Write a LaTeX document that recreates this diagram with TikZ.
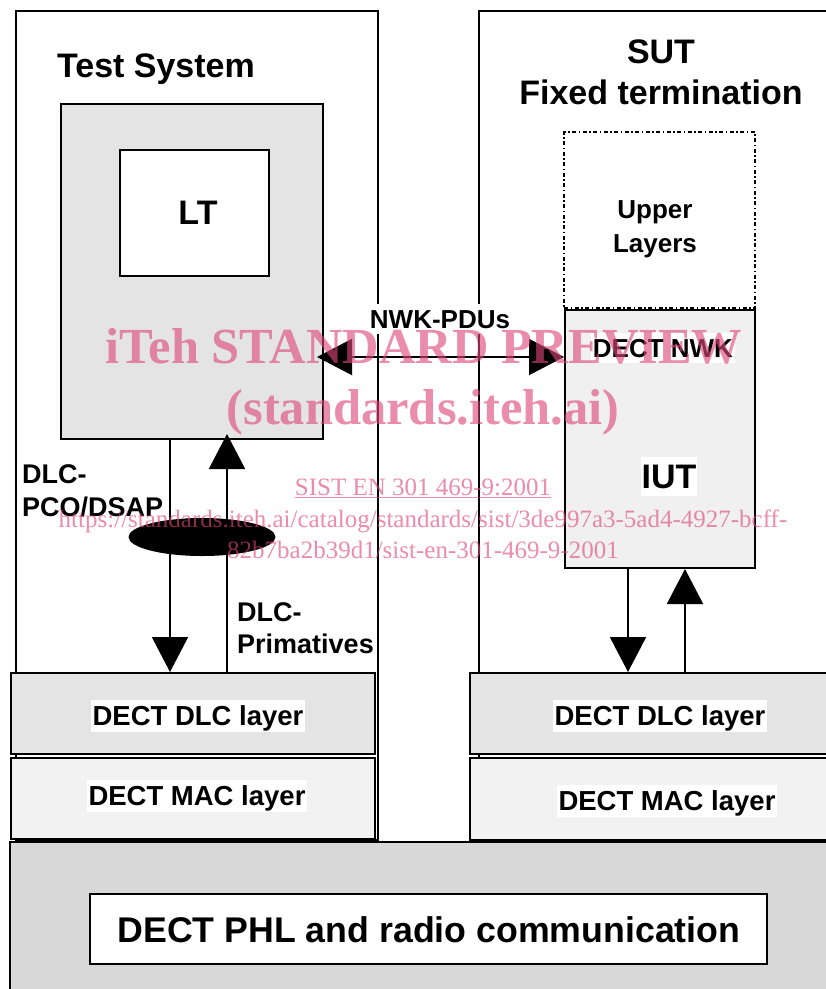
\documentclass[tikz,border=0pt]{standalone}
\usepackage{fontspec}
\setmainfont{Liberation Sans}
\newfontfamily\wmfont{Liberation Serif}
\usetikzlibrary{arrows.meta,shapes.geometric,fit}
\definecolor{ltgray}{RGB}{228,228,228}
\definecolor{nwkgray}{RGB}{240,240,240}
\definecolor{dlcgray}{RGB}{228,228,228}
\definecolor{macgray}{RGB}{242,242,242}
\definecolor{phlgray}{RGB}{216,216,216}
\definecolor{wmpink}{RGB}{222,70,120}
\begin{document}
\begin{tikzpicture}[x=1pt,y=-1pt,
  box/.style={draw=black, line width=2pt, rectangle, inner sep=0pt},
  title/.style={font=\fontsize{34}{38}\selectfont\bfseries, inner sep=0pt, anchor=base},
  lbl/.style={font=\fontsize{26}{31}\selectfont\bfseries, inner sep=0pt, anchor=base},
  lblw/.style={font=\fontsize{27}{32}\selectfont\bfseries, inner sep=0pt, anchor=base west},
  wbg/.style={fill=white, inner xsep=1.5pt, inner ysep=0.5pt, text height=23.5pt, text depth=5.5pt},
  laylbl/.style={font=\fontsize{27.5}{32}\selectfont\bfseries, fill=white, inner xsep=1.5pt, inner ysep=1pt, text height=24.5pt, text depth=6pt, anchor=base},
  arr/.style={-{Triangle[length=35pt,width=36pt]}, line width=2pt},
  dblarr/.style={{Triangle[length=35pt,width=36pt]}-{Triangle[length=35pt,width=36pt]}, line width=2pt},
  wm/.style={text=wmpink, text opacity=0.62, inner sep=0pt, anchor=base}
]
\useasboundingbox (0,0) rectangle (826,989);
\clip (0,0) rectangle (826,989);
\fill[white] (0,0) rectangle (826,989);

% outer boxes
\node[box, fill=white, fit={(16,11) (378,840)}] (tsys) {};
\node[box, fill=white, fit={(479,11) (900,840)}] (sut) {};

% test system
\node[title] (tstitle) at (156,77) {Test System};
\node[box, fill=ltgray, fit={(61,104) (323,439)}] (lt) {};
\node[box, fill=white, fit={(120,150) (269,276)}] (ltin) {};
\node[font=\fontsize{34}{38}\selectfont\bfseries, inner sep=0pt, anchor=base] (lttxt) at (198,224) {LT};

% SUT
\node[title] (suttitle) at (661,63) {SUT};
\node[title] (fixtitle) at (661,104) {Fixed termination};
\node[box, dash pattern=on 4pt off 2.5pt on 1.5pt off 2.5pt, fit={(564,132) (755,308)}] (upper) {};
\node[lbl] (up1) at (655,218) {Upper};
\node[lbl] (up2) at (655,252) {Layers};
\node[box, fill=nwkgray, fit={(565,310) (755,568)}] (iut) {};

% layers
\node[box, fill=dlcgray, fit={(11,673) (375,754)}] (dlcL) {};
\node[box, fill=macgray, fit={(11,758) (375,839)}] (macL) {};
\node[box, fill=dlcgray, fit={(470,673) (900,754)}] (dlcR) {};
\node[box, fill=macgray, fit={(470,758) (900,840)}] (macR) {};
\node[box, fill=phlgray, fit={(10,842) (900,1000)}] (phl) {};
\node[box, fill=white, fit={(90,894) (767,964)}] (phlin) {};

% arrows
\coordinate (xa) at (170,0);
\coordinate (xb) at (227,0);
\coordinate (xc) at (628,0);
\coordinate (xd) at (685,0);
\draw[arr] (lt.south -| xa) -- (dlcL.north -| xa);
\draw[arr] (dlcL.north -| xb) -- ([yshift=6pt]lt.south -| xb);
\draw[arr] (iut.south -| xc) -- (dlcR.north -| xc);
\draw[arr] (dlcR.north -| xd) -- (iut.south -| xd);
\coordinate (nwkl) at (317,357);
\draw[dblarr] (nwkl) -- (iut.west |- nwkl);
\node[ellipse, fill=black, minimum width=147pt, minimum height=38pt, inner sep=0pt] (pco) at (202,537) {};

% labels
\node[lbl, wbg] (pdus) at (440,328) {NWK-PDUs};
\node[lbl, wbg] (nwk) at (663,357) {DECT NWK};
\node[font=\fontsize{34}{38}\selectfont\bfseries, fill=white, inner xsep=1pt, inner ysep=1pt, text height=30pt, text depth=7pt, anchor=base] (iuttxt) at (669,488) {IUT};
\node[lblw] (pco1) at (22,483) {DLC-};
\node[lblw] (pco2) at (22,516) {PCO/DSAP};
\node[lblw] (prim1) at (237,621) {DLC-};
\node[lblw] (prim2) at (237,653) {Primatives};
\node[laylbl] (dlcLt) at (198,725) {DECT DLC layer};
\node[laylbl] (macLt) at (197,805) {DECT MAC layer};
\node[laylbl] (dlcRt) at (660,725) {DECT DLC layer};
\node[laylbl] (macRt) at (667,810) {DECT MAC layer};
\node[font=\fontsize{35.7}{40}\selectfont\bfseries, inner sep=0pt, anchor=base] (phltxt) at (429,942) {DECT PHL and radio communication};

% watermark
\node[wm, font=\wmfont\fontsize{50.5}{56}\selectfont\bfseries] (wm1) at (424,363) {iTeh STANDARD PREVIEW};
\node[wm, font=\wmfont\fontsize{50.5}{56}\selectfont\bfseries] (wm2) at (423,424) {(standards.iteh.ai)};
\node[wm, font=\wmfont\fontsize{25}{30}\selectfont] (wm3) at (423,495) {\underline{SIST EN 301 469-9:2001}};
\node[wm, font=\wmfont\fontsize{25}{30}\selectfont] (wm4) at (423,527) {https://standards.iteh.ai/catalog/standards/sist/3de997a3-5ad4-4927-bcff-};
\node[wm, font=\wmfont\fontsize{25}{30}\selectfont] (wm5) at (423,558) {82b7ba2b39d1/sist-en-301-469-9-2001};
\end{tikzpicture}
\end{document}
